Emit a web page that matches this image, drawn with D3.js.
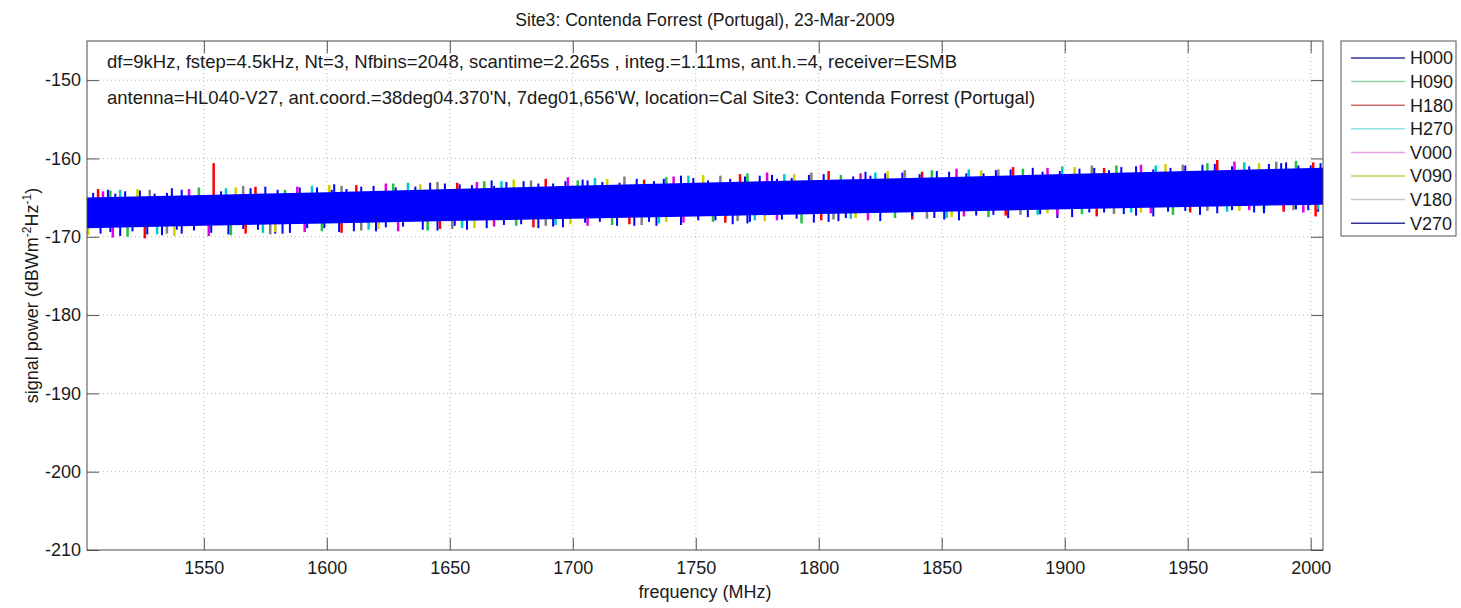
<!DOCTYPE html>
<html>
<head>
<meta charset="utf-8">
<script src="https://cdn.jsdelivr.net/npm/d3@7/dist/d3.min.js"></script>
<style>
  body { margin: 0; background: #fff; }
  svg text { font-family: "Liberation Sans", Arial, sans-serif; fill: #1a1a1a; }
  .tick line { stroke: #555; }
  .tick text { font-size: 18px; fill: #1a1a1a; }
  .domain { display: none; }
</style>
</head>
<body>
<div id="chart"></div>
<script>
// chart data
var titleText = "Site3: Contenda Forrest (Portugal), 23-Mar-2009";
var infoLines = [
    "df=9kHz, fstep=4.5kHz, Nt=3, Nfbins=2048, scantime=2.265s , integ.=1.11ms, ant.h.=4, receiver=ESMB",
    "antenna=HL040-V27, ant.coord.=38deg04.370'N, 7deg01,656'W, location=Cal Site3: Contenda Forrest (Portugal)"
];
var xTicks = [1550, 1600, 1650, 1700, 1750, 1800, 1850, 1900, 1950, 2000];
var yTicks = [-210, -200, -190, -180, -170, -160, -150];
var seriesNames = ["H000", "H090", "H180", "H270", "V000", "V090", "V180", "V270"];

// solid core of the noise band (where the last trace covers everything)
var bandFreq = [1502.5, 1550, 1600, 1650, 1700, 1750, 1800, 1850, 1900, 1950, 2005];
var bandTop = [-165.0, -164.65, -164.3, -163.9, -163.5, -163.1, -162.75, -162.4, -162.0, -161.6, -161.2];
var bandBottom = [-168.9, -168.6, -168.3, -168.0, -167.7, -167.4, -167.1, -166.8, -166.5, -166.2, -165.9];

// peaks sticking out of the band, per trace: [MHz, dB]
var peaksH000 = [[1511,-164.0],[1537,-163.8],[1575,-163.6],[1603,-163.3],[1642,-163.1],[1667,-162.8],[1704,-162.7],[1744,-162.2],[1781,-162.1],[1819,-161.7],[1848,-161.6],[1887,-161.2],[1923,-161.1],[1961,-160.7],[1990,-160.5],
    [1514,-164.5],[1524,-164.1],[1535,-164.4],[1548,-163.9],[1563,-164.2],[1589,-163.7],[1602,-164.0],[1614,-163.6],[1628,-163.7],[1654,-163.3],[1668,-163.5],[1680,-162.9],[1692,-163.2],[1706,-162.8],[1719,-163.1],[1737,-162.6],[1755,-162.8],[1770,-162.3],[1783,-162.6],[1796,-162.1],[1821,-162.2],[1834,-161.8],[1860,-161.9],[1872,-161.5],[1898,-161.6],[1912,-161.2],[1936,-161.4],[1949,-160.9],[1975,-161.0],[1988,-160.6],[2000,-160.9],
    [1516,-169.9],[1541,-169.6],[1582,-169.6],[1620,-169.3],[1657,-169.1],[1696,-168.8],[1734,-168.6],[1772,-168.1],[1808,-168.0],[1847,-167.6],[1885,-167.5],[1924,-167.1],[1962,-167.0],[1999,-166.6],
    [1512,-169.4],[1527,-169.7],[1539,-169.1],[1553,-169.5],[1566,-169.0],[1579,-169.6],[1592,-168.9],[1605,-169.4],[1631,-168.7],[1645,-169.2],[1672,-168.5],[1686,-168.9],[1711,-168.1],[1725,-168.6],[1751,-167.9],[1765,-168.4],[1791,-167.7],[1804,-168.1],[1831,-167.5],[1857,-167.9],[1871,-167.2],[1897,-167.6],[1910,-166.9],[1936,-167.4],[1949,-166.7],[1977,-166.9],[1989,-166.4],[2003,-166.8]];
var peaksH090 = [[1512,-164.1],[1548,-163.7],[1583,-164.0],[1627,-163.2],[1664,-162.9],[1702,-162.8],[1738,-162.4],[1771,-161.9],[1809,-162.1],[1846,-161.5],[1883,-161.3],[1921,-160.9],[1958,-160.6],[1994,-160.3],
    [1519,-170.0],[1561,-169.8],[1598,-169.3],[1641,-169.2],[1677,-168.6],[1716,-168.5],[1757,-168.1],[1793,-168.3],[1831,-167.6],[1869,-167.5],[1907,-167.1],[1944,-167.2],[1981,-166.7]];
var peaksH180 = [[1507,-163.9],[1554,-160.6],[1571,-163.6],[1612,-163.4],[1653,-163.1],[1689,-162.6],[1729,-162.7],[1768,-162.0],[1804,-161.6],[1842,-161.7],[1879,-161.1],[1916,-161.2],[1962,-160.2],[2001,-160.5],
    [1526,-170.2],[1567,-169.6],[1606,-169.5],[1646,-169.0],[1684,-168.8],[1723,-168.4],[1762,-168.2],[1801,-167.9],[1838,-167.8],[1876,-167.3],[1913,-167.4],[1951,-166.9],[1989,-166.8],[2002,-167.4]];
var peaksH270 = [[1516,-164.0],[1559,-163.8],[1594,-163.5],[1633,-163.1],[1671,-162.9],[1709,-162.5],[1747,-162.2],[1786,-162.0],[1823,-161.8],[1861,-161.4],[1899,-161.0],[1937,-160.9],[1973,-160.5],
    [1531,-169.7],[1574,-169.5],[1617,-169.1],[1655,-168.9],[1693,-168.5],[1735,-168.3],[1774,-167.9],[1813,-167.7],[1852,-167.6],[1889,-167.2],[1927,-166.9],[1966,-166.8],[2003,-166.5]];
var peaksV000 = [[1509,-164.2],[1544,-163.9],[1588,-163.6],[1624,-163.2],[1661,-163.0],[1698,-162.4],[1741,-162.3],[1779,-161.8],[1817,-161.9],[1856,-161.3],[1893,-161.2],[1931,-160.8],[1969,-160.4],
    [1513,-170.1],[1552,-169.9],[1591,-169.4],[1629,-169.3],[1668,-168.7],[1706,-168.6],[1745,-168.2],[1783,-167.9],[1820,-167.9],[1859,-167.4],[1897,-167.2],[1935,-167.0],[1975,-166.6],[1997,-166.9]];
var peaksV090 = [[1523,-163.9],[1563,-163.7],[1601,-163.4],[1638,-163.3],[1676,-162.7],[1714,-162.6],[1753,-162.1],[1790,-162.0],[1828,-161.6],[1866,-161.5],[1904,-161.1],[1941,-160.7],[1979,-160.6],
    [1503,-169.8],[1538,-169.9],[1579,-169.4],[1621,-169.0],[1660,-168.9],[1699,-168.4],[1738,-168.1],[1778,-168.0],[1815,-167.6],[1854,-167.5],[1893,-167.0],[1931,-166.9],[1971,-166.7]];
var peaksV180 = [[1528,-164.0],[1566,-163.5],[1606,-163.5],[1645,-163.0],[1683,-162.8],[1721,-162.3],[1760,-162.2],[1797,-161.8],[1835,-161.5],[1873,-161.4],[1911,-160.9],[1948,-160.8],[1986,-160.4],
    [1535,-169.6],[1577,-169.7],[1614,-169.2],[1651,-169.0],[1689,-168.6],[1728,-168.5],[1767,-168.0],[1806,-167.8],[1844,-167.7],[1882,-167.2],[1920,-167.1],[1958,-166.7],[1993,-166.6]];
var peaksV270 = [[1505,-164.4],[1518,-164.2],[1530,-164.5],[1541,-164.0],[1557,-164.2],[1569,-163.8],[1580,-164.0],[1596,-163.7],[1608,-163.9],[1619,-163.5],[1636,-163.6],[1648,-163.2],[1659,-163.4],[1673,-163.0],[1686,-163.2],[1697,-162.9],[1712,-163.0],[1726,-162.6],[1733,-162.9],[1749,-162.5],[1764,-162.6],[1776,-162.2],[1789,-162.5],[1802,-162.0],[1814,-162.3],[1827,-161.9],[1841,-162.0],[1853,-161.7],[1867,-161.9],[1878,-161.4],[1891,-161.7],[1906,-161.3],[1918,-161.5],[1929,-161.0],[1943,-161.2],[1956,-160.8],[1968,-161.0],[1983,-160.7],[1995,-160.9],[2004,-160.6],
    [1508,-169.6],[1521,-169.3],[1533,-169.8],[1546,-169.2],[1560,-169.7],[1572,-169.1],[1585,-169.5],[1599,-168.9],[1611,-169.3],[1624,-168.8],[1639,-169.1],[1652,-168.6],[1665,-168.9],[1679,-168.4],[1692,-168.7],[1705,-168.2],[1718,-168.6],[1731,-168.1],[1744,-168.5],[1758,-167.9],[1771,-168.3],[1785,-167.8],[1798,-168.2],[1811,-167.6],[1825,-168.0],[1838,-167.4],[1851,-167.8],[1864,-167.3],[1877,-167.6],[1890,-167.1],[1903,-167.5],[1916,-166.9],[1929,-167.3],[1942,-166.8],[1955,-167.2],[1968,-166.6],[1981,-167.0],[1994,-166.5]];
var seriesPeaks = [peaksH000, peaksH090, peaksH180, peaksH270, peaksV000, peaksV090, peaksV180, peaksV270];

// trace colours in the plot, and how the thin legend lines look
var seriesColors = ["#0000ff", "#22c040", "#ff0000", "#00c8c8", "#e000e0", "#d0d000", "#808080", "#0000ff"];
var legendColors = ["#34349a", "#8fd4a4", "#cc6a6a", "#8ee2e2", "#e6a0e6", "#c8c85a", "#c8c8c8", "#34349a"];

var svgWidth = 1461;
var svgHeight = 608;

var margin = { top: 41, right: 138, bottom: 58, left: 87 };
var width = svgWidth - margin.left - margin.right;
var height = svgHeight - margin.top - margin.bottom;

var svg = d3.select("#chart")
    .append("svg")
    .attr("width", svgWidth)
    .attr("height", svgHeight);

var chartGroup = svg.append("g")
    .attr("transform", `translate(${margin.left}, ${margin.top})`);

// scales
var xScale = d3.scaleLinear().domain([1502.5, 2005]).range([0, width]);
var yScale = d3.scaleLinear().domain([-210, -145]).range([height, 0]);
var coreMid = d3.scaleLinear()
    .domain(bandFreq)
    .range(bandFreq.map((f, i) => (bandTop[i] + bandBottom[i]) / 2));

// dotted grid
chartGroup.append("g").selectAll("line")
    .data(xTicks).enter().append("line")
    .attr("x1", d => xScale(d)).attr("x2", d => xScale(d))
    .attr("y1", 0).attr("y2", height)
    .attr("stroke", "#b4b4b4").attr("stroke-dasharray", "1,3");

chartGroup.append("g").selectAll("line")
    .data(yTicks.filter(d => d > -210)).enter().append("line")
    .attr("x1", 0).attr("x2", width)
    .attr("y1", d => yScale(d)).attr("y2", d => yScale(d))
    .attr("stroke", "#b4b4b4").attr("stroke-dasharray", "1,3");

// clip traces to the axes
svg.append("clipPath").attr("id", "plotClip")
    .append("rect").attr("width", width).attr("height", height);

var traces = chartGroup.append("g").attr("clip-path", "url(#plotClip)");

function drawPeaks(i, w) {
    traces.append("g")
        .attr("stroke", seriesColors[i])
        .attr("stroke-width", w)
        .selectAll("line")
        .data(seriesPeaks[i]).enter().append("line")
        .attr("x1", d => xScale(d[0])).attr("x2", d => xScale(d[0]))
        .attr("y1", d => yScale(coreMid(d[0])))
        .attr("y2", d => yScale(d[1]));
}

// first seven traces, then the band of the last one on top
for (var i = 0; i < 7; i++) drawPeaks(i, i == 0 ? 2 : 2.5);

var bandArea = d3.area()
    .x((d, i) => xScale(bandFreq[i]))
    .y0((d, i) => yScale(bandBottom[i]))
    .y1((d, i) => yScale(bandTop[i]));

traces.append("path")
    .datum(bandFreq)
    .attr("d", bandArea)
    .attr("fill", seriesColors[7]);

drawPeaks(7, 2);

// axes with inward ticks on all four sides
chartGroup.append("g")
    .attr("transform", `translate(0, ${height})`)
    .call(d3.axisBottom(xScale).tickValues(xTicks).tickSize(-12).tickPadding(11).tickFormat(d3.format("d")));

chartGroup.append("g")
    .call(d3.axisTop(xScale).tickValues(xTicks).tickSize(-12).tickFormat(""));

chartGroup.append("g")
    .call(d3.axisLeft(yScale).tickValues(yTicks).tickSize(-12).tickPadding(6).tickFormat(d => d3.format("d")(d).replace("\u2212", "-")));

chartGroup.append("g")
    .attr("transform", `translate(${width}, 0)`)
    .call(d3.axisRight(yScale).tickValues(yTicks).tickSize(-12).tickFormat(""));

chartGroup.append("rect")
    .attr("width", width).attr("height", height)
    .attr("fill", "none").attr("stroke", "#4a4a4a");

// info text inside the axes
chartGroup.append("g").selectAll("text")
    .data(infoLines).enter().append("text")
    .attr("x", 20)
    .attr("y", (d, i) => 27 + i * 36)
    .style("font-size", "18.5px")
    .text(d => d);

// title and axis labels
svg.append("text")
    .attr("x", margin.left + width / 2).attr("y", 26)
    .attr("text-anchor", "middle")
    .style("font-size", "17.6px")
    .text(titleText);

svg.append("text")
    .attr("x", margin.left + width / 2).attr("y", 598)
    .attr("text-anchor", "middle")
    .style("font-size", "18px")
    .text("frequency (MHz)");

var yLabel = svg.append("text")
    .attr("transform", `translate(38, ${margin.top + height / 2}) rotate(-90)`)
    .attr("text-anchor", "middle")
    .style("font-size", "18px");
yLabel.append("tspan").text("signal power (dBWm");
yLabel.append("tspan").attr("dy", -7).style("font-size", "12px").text("-2");
yLabel.append("tspan").attr("dy", 7).text("Hz");
yLabel.append("tspan").attr("dy", -7).style("font-size", "12px").text("-1");
yLabel.append("tspan").attr("dy", 7).text(")");

// legend
var legend = svg.append("g").attr("transform", "translate(1341, 41)");
legend.append("rect")
    .attr("width", 115).attr("height", 195)
    .attr("fill", "#fff").attr("stroke", "#555");

var entries = legend.selectAll(".entry")
    .data(seriesNames).enter().append("g")
    .attr("transform", (d, i) => `translate(0, ${17 + i * 23.6})`);

entries.append("line")
    .attr("x1", 10).attr("x2", 64)
    .attr("stroke", (d, i) => legendColors[i])
    .attr("stroke-width", 1.5);

entries.append("text")
    .attr("x", 69).attr("dy", "0.35em")
    .style("font-size", "18px")
    .text(d => d);
</script>
</body>
</html>
